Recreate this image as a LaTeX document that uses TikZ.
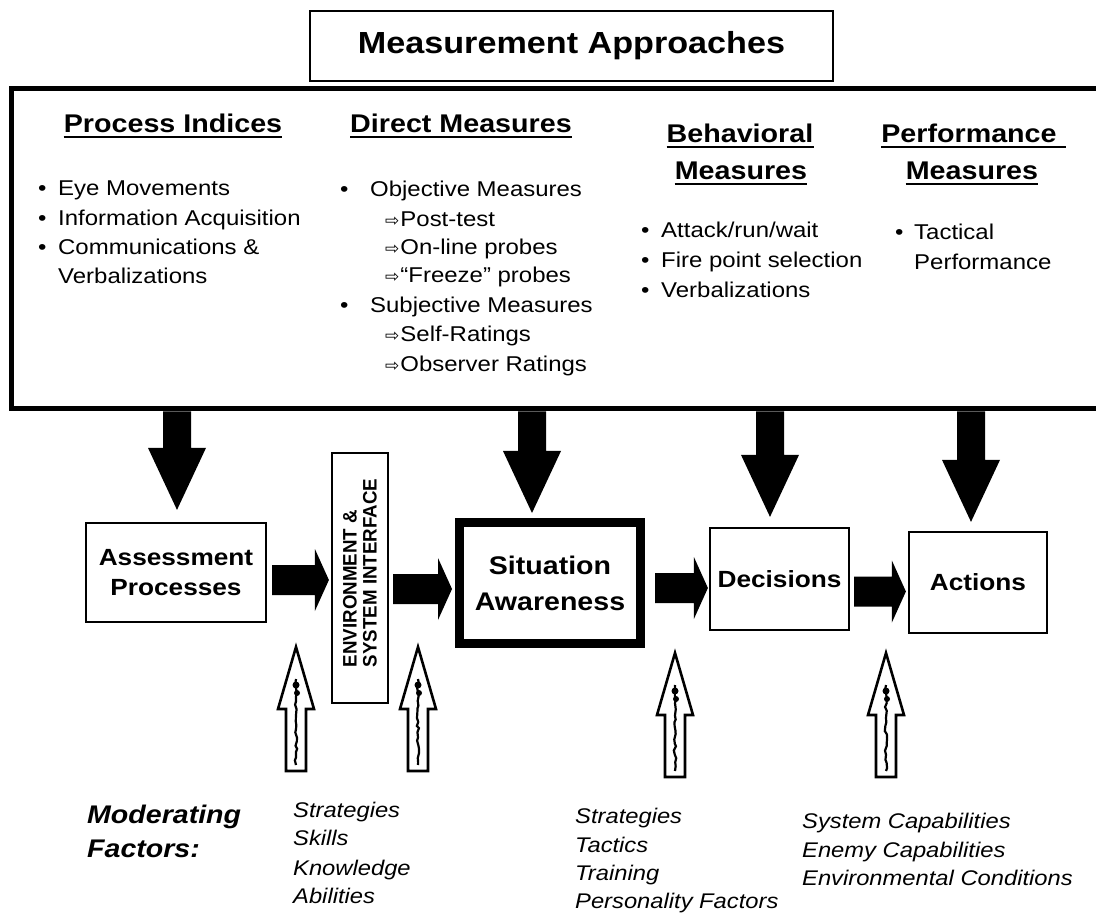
\documentclass[tikz,border=0pt]{standalone}
\usepackage{fontspec}
\setmainfont{Liberation Sans}[FakeStretch=1.12]
\newfontfamily\envfont{Liberation Sans}[FakeStretch=0.96]
\newfontfamily\symfont{DejaVu Sans}
\usetikzlibrary{calc,decorations.pathmorphing}
\newcommand\myfs[2]{\fontsize{#1}{#2}\selectfont}
\newcommand\subarr{{\symfont\myfs{17}{17}⇨}\hspace{1pt}}
\begin{document}
\begin{tikzpicture}[x=1pt,y=-1pt,
  titlebox/.style={draw, line width=2pt, fill=white, minimum width=523pt, minimum height=70pt, inner sep=0pt, font=\bfseries\myfs{30.5}{34}},
  bigbox/.style={draw, line width=5pt, minimum width=1110pt, minimum height=320pt, inner sep=0pt, anchor=north west},
  head/.style={anchor=base, inner sep=0pt, font=\bfseries\myfs{25.6}{30}},
  item/.style={anchor=base west, inner sep=0pt, font=\myfs{21.4}{29.5}},
  procbox/.style={draw, line width=2.2pt, inner sep=0pt, align=center, font=\bfseries\myfs{23.4}{30}},
  sabox/.style={draw, line width=9pt, inner sep=0pt, align=center, font=\bfseries\myfs{25.5}{36}},
  ital/.style={anchor=base west, inner sep=0pt, font=\itshape\myfs{21.2}{28}},
  modlab/.style={anchor=base west, inner sep=0pt, font=\bfseries\itshape\myfs{25.5}{34}},
  uline/.style={line width=1.8pt},
  fatright/.style={fill=black, to path={let \p1=(\tikztostart), \p2=(\tikztotarget) in
     (\x1,\y2+15pt) -- (\x2-14pt,\y2+15pt) -- (\x2-14pt,\y2+31pt) -- (\x2,\y2) -- (\x2-14pt,\y2-31pt) -- (\x2-14pt,\y2-15pt) -- (\x1,\y2-15pt) -- cycle}},
  fatdown/.style={fill=black, to path={let \p1=(\tikztostart), \p2=(\tikztotarget) in
     (\x2-14pt,\y1) -- (\x2+14pt,\y1) -- (\x2+14pt,\y2+62pt) -- (\x2+29pt,\y2+62pt) -- (\x2,\y2) -- (\x2-29pt,\y2+62pt) -- (\x2-14pt,\y2+62pt) -- cycle}},
  hollowup/.style={draw, fill=white, line width=2.6pt, line join=miter, to path={let \p1=(\tikztostart), \p2=(\tikztotarget) in
     (\x2-10pt,\y1) -- (\x2+10pt,\y1) -- (\x2+10pt,\y2-62pt) -- (\x2+18pt,\y2-62pt) -- (\x2,\y2) -- (\x2-18pt,\y2-62pt) -- (\x2-10pt,\y2-62pt) -- cycle}},
  scrib/.style={line width=2.2pt, decorate, decoration={random steps, segment length=4pt, amplitude=1.2pt}}
]
\useasboundingbox (0,0) rectangle (1096,917);
\clip (0,0) rectangle (1096,917);

% measurement approaches panel
\node[bigbox] (mbox) at (8.5,86.5) {};
\node[titlebox] (title) at (571.5,46) {Measurement Approaches};

% headings
\node[head] (hpi) at (173,133) {Process Indices};
\node[head] (hdm) at (461,133) {Direct Measures};
\node[head] (hbm1) at (740,143) {Behavioral};
\node[head] (hbm2) at (741,180) {Measures};
\node[head] (hpm1) at (969,143) {Performance};
\node[head] (hpm2) at (972,180) {Measures};
\draw[uline] ($(hpi.base west)+(0,4)$) -- ($(hpi.base east)+(0,4)$);
\draw[uline] ($(hdm.base west)+(0,4)$) -- ($(hdm.base east)+(0,4)$);
\draw[uline] ($(hbm1.base west)+(0,4)$) -- ($(hbm1.base east)+(0,4)$);
\draw[uline] ($(hbm2.base west)+(0,4)$) -- ($(hbm2.base east)+(0,4)$);
\draw[uline] ($(hpm1.base west)+(0,4)$) -- ($(hpm1.base east)+(9,4)$);
\draw[uline] ($(hpm2.base west)+(0,4)$) -- ($(hpm2.base east)+(0,4)$);

% process indices
\node[item] (p1) at (38,196) {\makebox[20pt][l]{•}Eye Movements};
\node[item] (p2) at (38,226) {\makebox[20pt][l]{•}Information Acquisition};
\node[item] (p3) at (38,255) {\makebox[20pt][l]{•}Communications \&};
\node[item] (p4) at (58,284) {Verbalizations};

% direct measures
\node[item] (d1) at (340,197) {\makebox[30pt][l]{•}Objective Measures};
\node[item] (d2) at (385,227) {\subarr Post-test};
\node[item] (d3) at (385,255) {\subarr On-line probes};
\node[item] (d4) at (385,283) {\subarr “Freeze” probes};
\node[item] (d5) at (340,313) {\makebox[30pt][l]{•}Subjective Measures};
\node[item] (d6) at (385,342) {\subarr Self-Ratings};
\node[item] (d7) at (385,372) {\subarr Observer Ratings};

% behavioral measures
\node[item] (b1) at (641,238) {\makebox[20pt][l]{•}Attack/run/wait};
\node[item] (b2) at (641,268) {\makebox[20pt][l]{•}Fire point selection};
\node[item] (b3) at (641,298) {\makebox[20pt][l]{•}Verbalizations};

% performance measures
\node[item] (f1) at (895,240) {\makebox[19pt][l]{•}Tactical};
\node[item] (f2) at (914,270) {Performance};

% process chain
\node[procbox, minimum width=180pt, minimum height=99pt] (ap) at (176,572.5) {Assessment\\Processes};
\node[draw, line width=2.2pt, inner sep=0pt, minimum width=56pt, minimum height=250pt] (env) at (360,578) {};
\node[rotate=90, align=left, inner sep=0pt, font=\envfont\bfseries\myfs{19.5}{20}] (envtxt) at ($(env.center)+(0,-5)$) {ENVIRONMENT \&\\SYSTEM INTERFACE};
\node[sabox, minimum width=181pt, minimum height=121pt] (sa) at (550,583) {Situation\\Awareness};
\node[procbox, minimum width=139pt, minimum height=102pt] (dec) at (779.5,579) {Decisions};
\node[procbox, minimum width=138pt, minimum height=101pt] (act) at (978,582.5) {Actions};

% flow arrows
\fill[fatright] ($(ap.east)+(5,0)$) to ($(env.west)+(-2,2)$);
\fill[fatright] ($(env.east)+(4,0)$) to ($(sa.west)+(-3,6)$);
\fill[fatright] ($(sa.east)+(10,0)$) to ($(dec.west)+(-1,9)$);
\fill[fatright] ($(dec.east)+(4,0)$) to ($(act.west)+(-2,9)$);

% down arrows from measurement panel
\coordinate (tA) at ($(ap.north)+(1,-12)$);
\coordinate (tS) at ($(sa.north)+(-18,-5)$);
\coordinate (tD) at ($(dec.north)+(-9.5,-10)$);
\coordinate (tC) at ($(act.north)+(-7,-9)$);
\fill[fatdown] (tA |- mbox.south) to (tA);
\fill[fatdown] (tS |- mbox.south) to (tS);
\fill[fatdown] (tD |- mbox.south) to (tD);
\fill[fatdown] (tC |- mbox.south) to (tC);

% moderating factor arrows
\coordinate (u1b) at (296,771); \coordinate (u1t) at (296,647);
\coordinate (u2b) at (418,771); \coordinate (u2t) at (418,647);
\coordinate (u3b) at (675,777); \coordinate (u3t) at (675,653);
\coordinate (u4b) at (886,777); \coordinate (u4t) at (886,653);
\foreach \u in {1,2,3,4}{
  \draw[hollowup] (u\u b) to (u\u t);
  \draw[scrib] ($(u\u b)+(0,-6)$) -- ($(u\u t)+(0,32)$);
  \fill ($(u\u t)+(0,38)$) circle (3.5pt);
  \fill ($(u\u t)+(1,46)$) circle (3pt);
}

% moderating factors
\node[modlab] (m1) at (87,823) {Moderating};
\node[modlab] (m2) at (87,857) {Factors:};
\node[ital] (g11) at (293,817) {Strategies};
\node[ital] (g12) at (293,845) {Skills};
\node[ital] (g13) at (293,875) {Knowledge};
\node[ital] (g14) at (293,903) {Abilities};
\node[ital] (g21) at (575,823) {Strategies};
\node[ital] (g22) at (575,852) {Tactics};
\node[ital] (g23) at (575,880) {Training};
\node[ital] (g24) at (575,908) {Personality Factors};
\node[ital] (g31) at (802,828) {System Capabilities};
\node[ital] (g32) at (802,857) {Enemy Capabilities};
\node[ital] (g33) at (802,885) {Environmental Conditions};
\end{tikzpicture}
\end{document}
